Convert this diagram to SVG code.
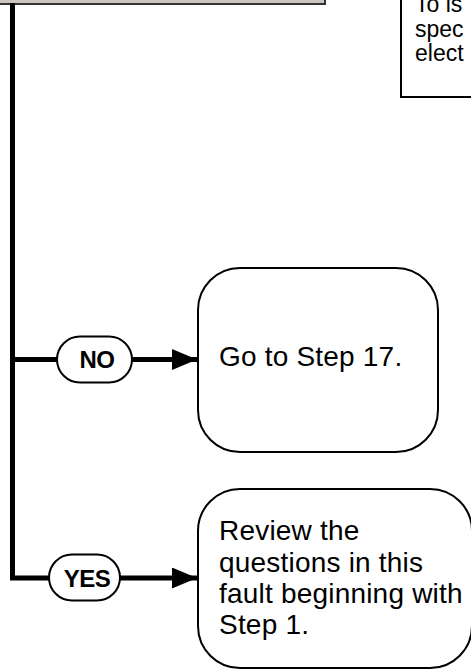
<svg xmlns="http://www.w3.org/2000/svg" width="471" height="671" viewBox="0 0 471 671">
<style>
.txt{font-family:"Liberation Sans",Arial,sans-serif;fill:#000}
.big{font-size:28px;letter-spacing:0.2px}
.note{font-size:23px}
.lbl{font-size:24px;font-weight:bold;letter-spacing:-0.5px}
.box{fill:#fff;stroke:#000;stroke-width:2}
.pill{fill:#fff;stroke:#000;stroke-width:2}
.conn{fill:none;stroke:#000;stroke-width:5;stroke-linejoin:miter}
</style>
<defs>
<marker id="arr" viewBox="0 0 25 21" refX="25" refY="10.5" markerWidth="25" markerHeight="21" markerUnits="userSpaceOnUse" orient="auto">
<path d="M0,0 L25,10.5 L0,21 Z" fill="#000"/>
</marker>
</defs>
<rect width="471" height="671" fill="#fff"/>
<g id="top-box">
<rect x="-10" y="-50" width="335" height="54" fill="#cbc5c0" stroke="#333" stroke-width="2"/>
</g>
<g id="note-box">
<rect x="401" y="-50" width="100" height="147" class="box"/>
<text class="txt note" x="415" y="12">To is</text>
<text class="txt note" x="415" y="36.5">spec</text>
<text class="txt note" x="415" y="61">elect</text>
</g>
<g id="connectors">
<path class="conn" d="M12.5,3 V578 H49"/>
<path class="conn" d="M12.5,359.5 H57"/>
<path class="conn" d="M132,359.5 H197" marker-end="url(#arr)"/>
<path class="conn" d="M120,578 H197" marker-end="url(#arr)"/>
</g>
<g id="no-label">
<rect x="57" y="336.5" width="75" height="46" rx="23" ry="23" class="pill"/>
<text class="txt lbl" x="97" y="368" text-anchor="middle">NO</text>
</g>
<g id="yes-label">
<rect x="49" y="554.5" width="71" height="46" rx="23" ry="23" class="pill"/>
<text class="txt lbl" x="87" y="587" text-anchor="middle">YES</text>
</g>
<g id="no-box">
<rect x="198" y="268" width="240" height="184" rx="42" ry="42" class="box"/>
<text class="txt big" x="219" y="366">Go to Step 17.</text>
</g>
<g id="yes-box">
<rect x="198" y="489" width="274" height="179" rx="42" ry="42" class="box"/>
<text class="txt big" x="219" y="540">Review the</text>
<text class="txt big" x="219" y="571.5">questions in this</text>
<text class="txt big" x="219" y="603">fault beginning with</text>
<text class="txt big" x="219" y="634">Step 1.</text>
</g>
</svg>
